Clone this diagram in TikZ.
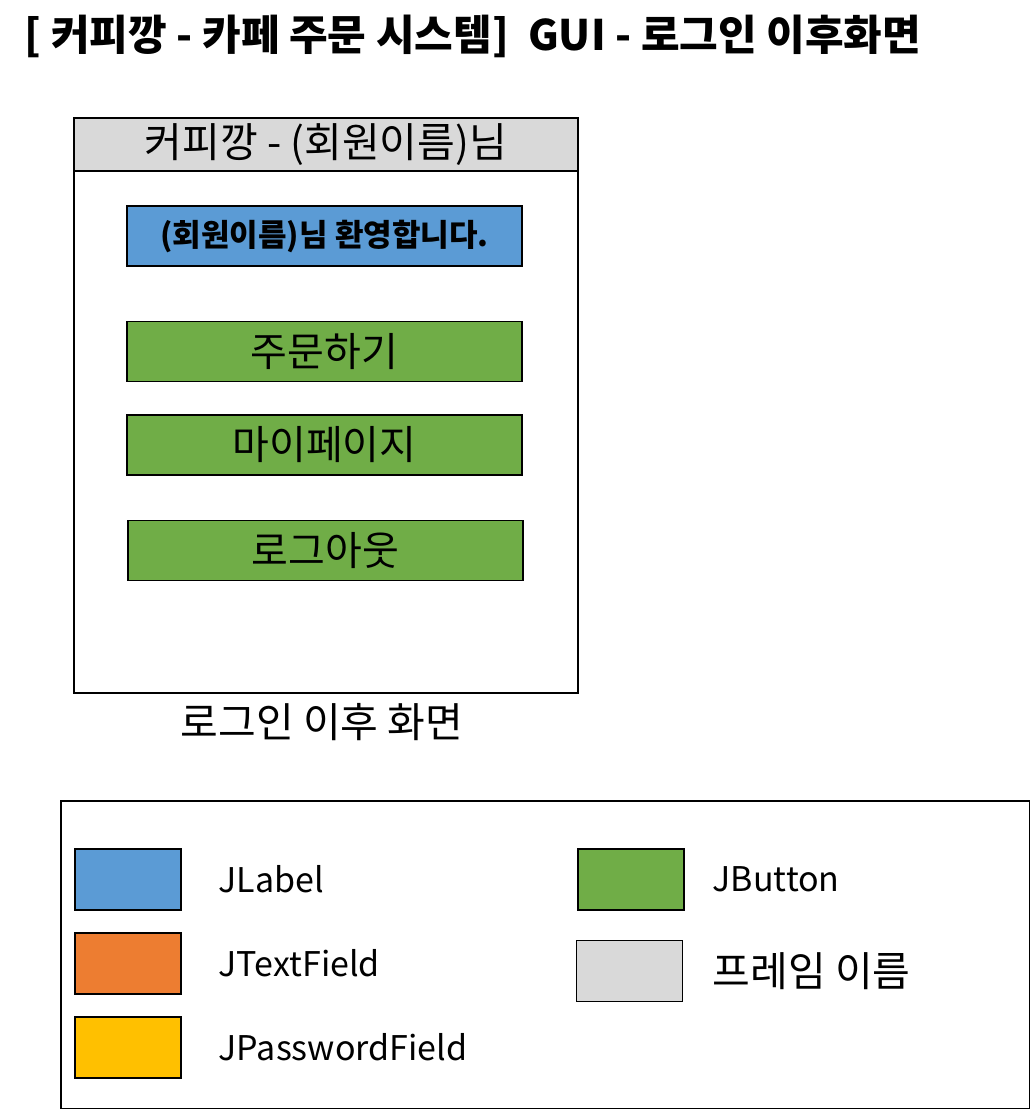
\documentclass[tikz,border=0pt]{standalone}
\usepackage{fontspec}
\setmainfont{Noto Sans CJK KR}
\definecolor{labelblue}{HTML}{5B9BD5}
\definecolor{fieldorange}{HTML}{ED7D31}
\definecolor{passyellow}{HTML}{FFC000}
\definecolor{buttongreen}{HTML}{70AD47}
\definecolor{framegray}{HTML}{D9D9D9}
\newcommand{\fsz}[1]{\fontsize{#1}{#1}\selectfont}
\begin{document}
\begin{tikzpicture}[x=1pt, y=-1pt, line width=1.6pt,
  comp/.style={draw, minimum width=395pt, minimum height=60pt, inner sep=0pt, font=\fsz{40}},
  swatch/.style={draw, minimum width=106pt, minimum height=61pt, inner sep=0pt}]
 \useasboundingbox (0,0) rectangle (1030,1109);

 % title
 \node[anchor=west, inner sep=0pt, font=\bfseries\fsz{42}] (title) at (24,36) {[ 커피깡 - 카페 주문 시스템]\ \ GUI - 로그인 이후화면};

 % frame
 \node[draw, minimum width=504pt, minimum height=575pt, anchor=north west] (frame) at (73,117) {};
 \node[draw, fill=framegray, minimum width=504pt, minimum height=53pt, inner sep=0pt, anchor=north west, font=\fsz{41}] (framebar) at (73,117) {커피깡 - (회원이름)님};

 \node[comp, fill=labelblue, font=\bfseries\fsz{31}] (welcome) at (324.5,236) {(회원이름)님 환영합니다.};
 \node[comp, fill=buttongreen] (order) at (324.5,351.5) {주문하기};
 \node[comp, fill=buttongreen] (mypage) at (324.5,445) {마이페이지};
 \node[comp, fill=buttongreen] (logout) at (325.5,550.5) {로그아웃};

 \node[font=\fsz{41}] (caption) at (322,722) {로그인 이후 화면};

 % legend
 \node[draw, minimum width=969pt, minimum height=308pt, anchor=north west] (legend) at (60,800) {};
 \foreach \x/\tx/\y/\col/\name/\txt/\sz in {128/218/879.5/labelblue/jlabel/JLabel/34, 128/218/963.5/fieldorange/jtext/JTextField/34,
     128/218/1047.5/passyellow/jpass/JPasswordField/34, 631/712/879.5/buttongreen/jbutton/JButton/34,
     629.5/712/971/framegray/fname/프레임 이름/41} {
   \node[swatch, fill=\col] (sw-\name) at (\x,\y) {};
   \node[anchor=west, inner sep=0pt, font=\fsz{\sz}] (txt-\name) at (\tx,\y) {\txt};
 }

\end{tikzpicture}
\end{document}
